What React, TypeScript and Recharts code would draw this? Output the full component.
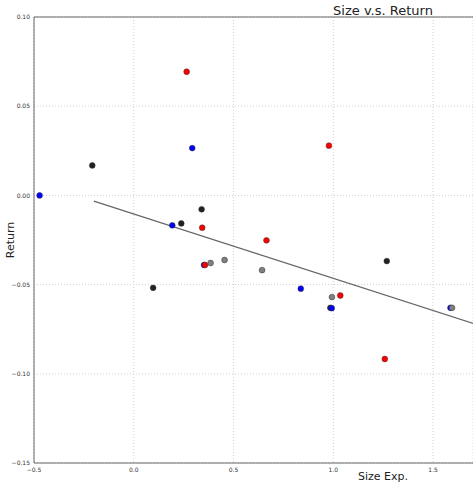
import { ScatterChart, Scatter, XAxis, YAxis, CartesianGrid, ReferenceLine } from "recharts";

type Pt = { x: number; y: number };

const blackPts: Pt[] = [
  { x: -0.208, y: 0.0168 },
  { x: 0.34, y: -0.0078 },
  { x: 0.238, y: -0.0157 },
  { x: 0.097, y: -0.0518 },
  { x: 1.268, y: -0.0368 },
  { x: 0.985, y: -0.063 },
];
const bluePts: Pt[] = [
  { x: -0.472, y: 0.0 },
  { x: 0.293, y: 0.0265 },
  { x: 0.193, y: -0.0168 },
  { x: 0.352, y: -0.039 },
  { x: 0.837, y: -0.0523 },
  { x: 0.992, y: -0.0632 },
  { x: 1.587, y: -0.063 },
];
const redPts: Pt[] = [
  { x: 0.265, y: 0.0693 },
  { x: 0.343, y: -0.0181 },
  { x: 0.978, y: 0.0279 },
  { x: 0.665, y: -0.0252 },
  { x: 0.357, y: -0.039 },
  { x: 1.035, y: -0.0561 },
  { x: 1.258, y: -0.0917 },
];
const grayPts: Pt[] = [
  { x: 0.385, y: -0.0379 },
  { x: 0.455, y: -0.0362 },
  { x: 0.643, y: -0.0419 },
  { x: 0.993, y: -0.057 },
  { x: 1.595, y: -0.063 },
];
const fitLine: Pt[] = [
  { x: -0.2, y: -0.0032 },
  { x: 1.75, y: -0.0736 },
];

const xTicks = [-0.5, 0, 0.5, 1, 1.5];
const yTicks = [0.1, 0.05, 0, -0.05, -0.1, -0.15];

const fmtX = (v: number) => v.toFixed(1).replace("-", "\u2212");
const fmtY = (v: number) => v.toFixed(2).replace("-", "\u2212");

const dot = (fill: string) => (p: any) => (
  <circle cx={p.cx} cy={p.cy} r={2.9} fill={fill} stroke="#333" strokeWidth={0.5} />
);
const noDot = () => <g />;

const font = "'DejaVu Sans', sans-serif";

export default function App() {
  return (
    <div style={{ position: "absolute", left: 0, top: 0, width: 473, height: 488, background: "#fff", fontFamily: font }}>
      <ScatterChart width={473} height={488} margin={{ top: 17, right: 0, left: 0, bottom: 0 }}>
        <CartesianGrid stroke="#d0d0d0" strokeDasharray="1 2" />
        <XAxis
          type="number"
          dataKey="x"
          domain={[-0.5, 1.7]}
          allowDataOverflow
          ticks={xTicks}
          tickFormatter={fmtX}
          height={25}
          tickLine={false}
          tickSize={3}
          stroke="#666"
          tick={{ fontSize: 6, fill: "#333", fontFamily: font }}
        />
        <YAxis
          type="number"
          dataKey="y"
          domain={[-0.15, 0.1]}
          allowDataOverflow
          ticks={yTicks}
          tickFormatter={fmtY}
          width={34}
          tickLine={false}
          tickSize={2}
          stroke="#666"
          tick={{ fontSize: 6, fill: "#333", fontFamily: font }}
        />
        <ReferenceLine y={0.1} stroke="#666" />
        <Scatter data={fitLine} line={{ stroke: "#666", strokeWidth: 1.2 }} shape={noDot} isAnimationActive={false} />
        <Scatter data={blackPts} shape={dot("#222")} isAnimationActive={false} />
        <Scatter data={bluePts} shape={dot("#0000ff")} isAnimationActive={false} />
        <Scatter data={redPts} shape={dot("#ff0000")} isAnimationActive={false} />
        <Scatter data={grayPts} shape={dot("#808080")} isAnimationActive={false} />
      </ScatterChart>
      <div style={{ position: "absolute", left: 283, width: 200, top: 3, textAlign: "center", fontSize: 13, color: "#222" }}>
        Size v.s. Return
      </div>
      <div style={{ position: "absolute", left: 283, width: 200, top: 470, textAlign: "center", fontSize: 11, color: "#222" }}>
        Size Exp.
      </div>
      <div
        style={{
          position: "absolute",
          left: 10,
          top: 240,
          fontSize: 11,
          color: "#222",
          transform: "translate(-50%, -50%) rotate(-90deg)",
          whiteSpace: "nowrap",
        }}
      >
        Return
      </div>
    </div>
  );
}
